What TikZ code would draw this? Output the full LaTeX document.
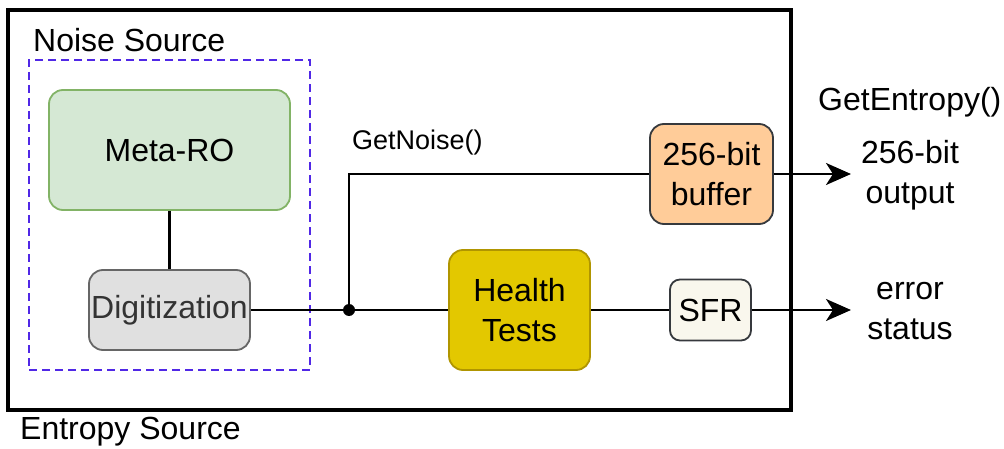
\documentclass[tikz,border=0pt]{standalone}
\usepackage{fontspec}
\setmainfont{Liberation Sans}
\usetikzlibrary{arrows.meta}
\definecolor{dashblue}{RGB}{80,40,230}
\definecolor{greenfill}{RGB}{213,232,212}
\definecolor{greendraw}{RGB}{130,179,102}
\definecolor{grayfill}{RGB}{224,224,224}
\definecolor{graydraw}{RGB}{102,102,102}
\definecolor{orangefill}{RGB}{255,204,153}
\definecolor{darkdraw}{RGB}{54,57,61}
\definecolor{yellowfill}{RGB}{227,200,0}
\definecolor{yellowdraw}{RGB}{176,149,0}
\definecolor{sfrfill}{RGB}{249,247,237}
\tikzset{
  big/.style={font=\fontsize{32}{40}\selectfont},
  blk/.style={big, rounded corners=14pt, line width=1.8pt, inner sep=0pt, align=center},
  conn/.style={line width=2.4pt, black},
  arr/.style={conn, -{Stealth[length=25pt,width=22pt,inset=7pt]}},
  lbl/.style={big, inner sep=0pt, align=center}
}
\begin{document}
\begin{tikzpicture}[x=1pt,y=-1pt]
\useasboundingbox (0,0) rectangle (1004,449);
\node[draw=black, line width=3.8pt, minimum width=783pt, minimum height=400pt, inner sep=0pt] (outer) at (399.5,210) {};
\node[draw=dashblue, line width=1.8pt, dash pattern=on 8pt off 5pt, minimum width=281pt, minimum height=310pt, inner sep=0pt] (noise) at (169.5,215) {};
\node[lbl, anchor=west] (noiselbl) at (33,40) {Noise Source};
\node[lbl, anchor=west] (entlbl) at (20,432) {Entropy Source};
\node[blk, fill=greenfill, draw=greendraw, minimum width=241pt, minimum height=120pt] (meta) at (169.5,150) {Meta-RO};
\node[blk, fill=grayfill, draw=graydraw, text=black!80, minimum width=161pt, minimum height=80pt] (digit) at (169.5,310) {Digitization};
\node[blk, fill=orangefill, draw=darkdraw, minimum width=123pt, minimum height=100pt] (buffer) at (711.5,174) {256-bit\\buffer};
\node[blk, fill=yellowfill, draw=yellowdraw, minimum width=141pt, minimum height=120pt] (health) at (519.5,310) {Health\\Tests};
\node[blk, rounded corners=10pt, fill=sfrfill, draw=darkdraw, minimum width=81pt, minimum height=61pt] (sfr) at (710.5,310) {SFR};
\node[font=\fontsize{27}{32}\selectfont, inner sep=0pt, anchor=west] (getnoise) at (352,143) {GetNoise()};
\node[lbl, anchor=west] (getent) at (818,102) {GetEntropy()};
\node[lbl] (outtxt) at (910,175) {256-bit\\output};
\node[lbl] (errtxt) at (910,311) {error\\status};
\coordinate (j) at (349,310);
\coordinate (outend) at (851,174);
\coordinate (errend) at (851,310);
\draw[conn] (meta) -- (digit);
\draw[conn] (digit.east) -- (health.west);
\draw[conn] (j) |- (buffer.west);
\draw[conn] (health.east) -- (sfr.west);
\draw[arr] (buffer.east) -- (outend);
\draw[arr] (sfr.east) -- (errend);
\fill (j) circle (6pt);
\end{tikzpicture}
\end{document}
